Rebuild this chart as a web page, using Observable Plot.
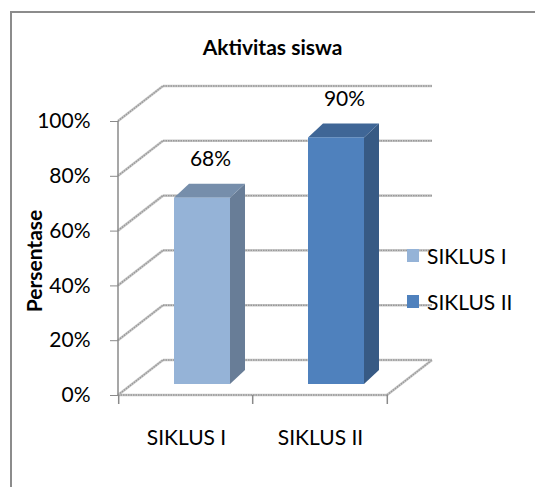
<!DOCTYPE html>
<html><head><meta charset="utf-8">
<script src="https://cdn.jsdelivr.net/npm/d3@7"></script>
<script src="https://cdn.jsdelivr.net/npm/@observablehq/plot@0.6"></script>
<style>
body{margin:0;background:#fff;}
#wrap{position:relative;width:535px;height:487px;overflow:hidden;font-family:Lato,"Open Sans",sans-serif;color:#000;}
#border{position:absolute;left:10px;top:11px;width:600px;height:600px;border:2px solid #8c8c8c;box-sizing:border-box;}
#chart{position:absolute;left:0;top:0;}
#title{position:absolute;left:0;width:545px;top:33px;text-align:center;font-weight:bold;font-size:21px;line-height:28px;}
#ylabel{position:absolute;left:33px;top:261px;transform:translate(-50%,-50%) rotate(-90deg);font-weight:bold;font-size:21px;white-space:nowrap;}
#legend{position:absolute;left:407px;top:241px;font-size:21px;}
.item{display:flex;align-items:center;height:28px;margin-bottom:18px;white-space:nowrap;}
.sw{width:12px;height:13px;margin-right:8px;}
</style></head><body>
<div id="wrap"><div id="border"></div><div id="chart"></div><div id="title">Aktivitas siswa</div><div id="ylabel">Persentase</div><div id="legend"></div></div>
<script>
const categories = ["SIKLUS I", "SIKLUS II"];
const values = [68, 90];
const yTicks = [0, 20, 40, 60, 80, 100];
const colors = ["#95b3d7", "#4f81bd"];

const data = categories.map((c, i) => ({cat: c, v: values[i]}));
const WALL = {dx: 45, dy: -35};
const BAR_OFF = {dx: 16, dy: -11};
const BAR_DEPTH = {dx: 15, dy: -14};
const PI = 0.584, PO = 0.292;
const gridColor = "#a3a3a3";

function bw(x) { return x.bandwidth ? x.bandwidth() : 0; }

function walls(index, scales, vals, dims) {
  const x = scales.x, y = scales.y;
  const x0 = dims.marginLeft, x1 = dims.width - dims.marginRight;
  const g = d3.create("svg:g").attr("fill", "none");
  const line = (a, b, c, d, col, w, dash) => {
    const l = g.append("line").attr("x1", a).attr("y1", b).attr("x2", c).attr("y2", d)
      .attr("stroke", col || gridColor).attr("stroke-width", w || 2);
    if (dash) l.attr("stroke-dasharray", dash);
    return l;
  };
  const grid = (a, b, c, d) => {
    line(a, b, c, d, "#c8c8c8", 2.6);
    line(a, b, c, d, "#999", 1.4, "1.5,1");
  };
  for (const t of yTicks) {
    const py = y(t);
    grid(x0, py, x0 + WALL.dx, py + WALL.dy);
    grid(x0 + WALL.dx, py + WALL.dy, x1 + WALL.dx, py + WALL.dy);
  }
  grid(x0, y(0), x1, y(0));
  grid(x1, y(0), x1 + WALL.dx, y(0) + WALL.dy);
  line(x0, y(0), x0, y(100), "#8a8a8a", 1.5);
  // category boundary ticks
  const b = bw(x), step = b / (1 - PI);
  const bounds = categories.map(c => x(c) - (step - b) / 2);
  bounds.push(bounds[bounds.length - 1] + step);
  for (const px of bounds) line(px, y(0), px, y(0) + 9, "#8a8a8a", 1.5);
  return g.node();
}

function faces(index, scales, vals, dims) {
  const x = scales.x, y = scales.y;
  const b = bw(x);
  const g = d3.create("svg:g");
  data.forEach((d, i) => {
    const L = x(d.cat) + BAR_OFF.dx, R = L + b;
    const T = y(d.v) + BAR_OFF.dy, B = y(0) + BAR_OFF.dy;
    const side = d3.color(colors[i]).darker(1.0);
    const top = d3.color(colors[i]).darker(0.65);
    const pts = a => a.map(p => p.join(",")).join(" ");
    g.append("polygon").attr("points", pts([[R, T], [R + BAR_DEPTH.dx, T + BAR_DEPTH.dy], [R + BAR_DEPTH.dx, B + BAR_DEPTH.dy], [R, B]])).attr("fill", side);
    g.append("polygon").attr("points", pts([[L, T], [L + BAR_DEPTH.dx, T + BAR_DEPTH.dy], [R + BAR_DEPTH.dx, T + BAR_DEPTH.dy], [R, T]])).attr("fill", top);
  });
  return g.node();
}

const chart = Plot.plot({
  width: 535,
  height: 487,
  marginLeft: 118,
  marginRight: 148,
  marginTop: 121,
  marginBottom: 92,
  style: {fontFamily: "Lato, 'Open Sans', sans-serif", background: "transparent", color: "#000"},
  x: {type: "band", domain: categories, paddingInner: PI, paddingOuter: PO},
  y: {domain: [0, 100]},
  color: {domain: categories, range: colors},
  marks: [
    walls,
    faces,
    Plot.barY(data, {x: "cat", y: "v", fill: "cat", dx: BAR_OFF.dx, dy: BAR_OFF.dy}),
    Plot.text(data, {x: "cat", y: "v", text: d => d.v + "%", dx: BAR_OFF.dx + 8, dy: -50, fontSize: 21, fill: "#000"}),
    Plot.axisY({ticks: yTicks, tickFormat: d => d + "%", tickSize: 8, tickPadding: 20, fontSize: 21, stroke: "#8a8a8a", label: null}),
    Plot.axisX({tickSize: 0, tickPadding: 35, fontSize: 21, label: null})
  ]
});
document.getElementById("chart").appendChild(chart);

const leg = document.getElementById("legend");
categories.forEach((c, i) => {
  const it = document.createElement("div");
  it.className = "item";
  it.innerHTML = `<div class="sw" style="background:${colors[i]}"></div><span>${c}</span>`;
  leg.appendChild(it);
});
</script>
</body></html>
